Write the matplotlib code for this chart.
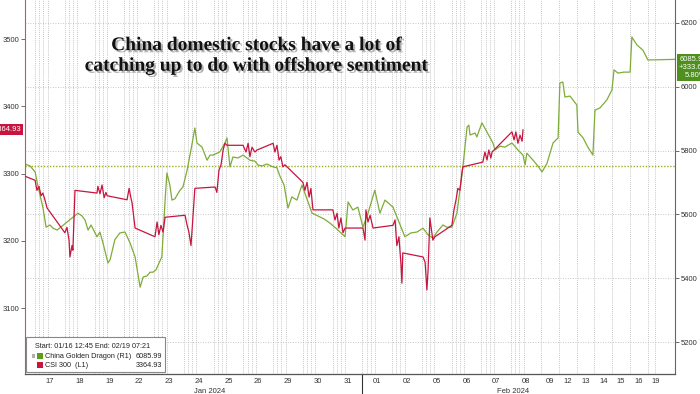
import matplotlib
matplotlib.use('Agg')
import matplotlib.pyplot as plt
import matplotlib.patheffects as pe
import matplotlib.transforms as mtransforms
from matplotlib.patches import Rectangle
import numpy as np

# trading-day axis: labels and their width in session units
day_labels = ['17', '18', '19', '22', '23', '24', '25', '26', '29', '30', '31',
              '01', '02', '05', '06', '07', '08',
              '09', '12', '13', '14', '15', '16', '19']
day_widths = [1.0] * 17 + [0.6] * 6 + [0.5]

# China Golden Dragon (R1), x in session units
dragon_x = [-0.84, -0.67, -0.50, -0.40, -0.24, -0.13, 0.00, 0.10, 0.24,
            0.94, 1.08, 1.18, 1.28, 1.38, 1.58, 1.68, 1.78, 1.95, 2.02,
            2.18, 2.35, 2.52, 2.69, 2.86, 3.03, 3.13, 3.26, 3.36, 3.46, 3.56,
            3.76, 3.87, 3.93, 4.03, 4.10, 4.20, 4.37, 4.47, 4.61, 4.77, 4.87,
            4.94, 5.11, 5.28, 5.38, 5.48, 5.71, 5.88, 5.95,
            6.05, 6.15, 6.32, 6.49, 6.72, 6.89, 6.99, 7.13, 7.29, 7.50, 7.63,
            7.73, 7.87, 8.00, 8.13, 8.30, 8.47,
            8.81, 9.01, 9.21, 9.41, 9.61, 9.75, 9.92,
            10.02, 10.18, 10.35, 10.52, 10.69, 10.92, 11.09, 11.26, 11.53,
            11.93, 12.13, 12.34, 12.54, 12.71, 12.87, 13.01, 13.21, 13.34,
            13.51, 13.68,
            13.88, 14.02, 14.08, 14.12, 14.29, 14.35, 14.52,
            14.89, 14.96, 15.13, 15.29, 15.53, 15.73, 15.90, 15.97, 16.03,
            16.24, 16.40, 16.54, 16.71, 16.91, 17.08, 17.14, 17.24, 17.31,
            17.48, 17.58, 17.71, 17.75, 17.92, 18.08, 18.25, 18.32, 18.49,
            18.72, 18.89, 18.96, 19.09, 19.29, 19.50, 19.56, 19.73, 19.93,
            20.10, 21.01]
dragon_y = [5758, 5752, 5733, 5686, 5623, 5560, 5567, 5557, 5551,
            5604, 5595, 5582, 5551, 5567, 5530, 5545, 5511, 5448, 5458,
            5521, 5542, 5545, 5511, 5467, 5372, 5404, 5407, 5419, 5419, 5426,
            5467, 5645, 5730, 5692, 5645, 5649, 5676, 5686, 5739, 5818, 5871,
            5824, 5811, 5770, 5786, 5786, 5796, 5824, 5840,
            5749, 5780, 5777, 5786, 5770, 5767, 5755, 5752, 5758, 5749, 5746,
            5720, 5692, 5620, 5655, 5645, 5692,
            5604, 5595, 5586, 5573, 5557, 5545, 5530,
            5639, 5614, 5623, 5560, 5604, 5676, 5604, 5645, 5623,
            5530, 5542, 5545, 5557, 5536, 5526, 5545, 5567, 5560,
            5560, 5604,
            5749, 5874, 5880, 5849, 5855, 5843, 5887,
            5824, 5802, 5814, 5811, 5824, 5802, 5786, 5755, 5792,
            5770, 5752, 5733, 5761, 5824, 5840, 6012, 6015, 5968,
            5971, 5959, 5943, 5858, 5840, 5811, 5786, 5927, 5934,
            5959, 5990, 6053, 6043, 6046, 6046, 6156, 6131, 6115,
            6084, 6086]

# CSI 300 (L1)
csi_x = [-0.84, -0.50, -0.44, -0.37, -0.30, -0.24, -0.17, -0.10,
         0.50, 0.57, 0.64, 0.67, 0.74, 0.77, 0.84,
         1.58, 1.61, 1.68, 1.75, 1.82, 1.88, 1.92,
         2.59, 2.66, 2.72, 2.76, 2.86,
         3.53, 3.60, 3.66, 3.73, 3.80, 3.87,
         4.54, 4.61, 4.67, 4.74, 4.77, 4.87,
         5.55, 5.61, 5.68, 5.75, 5.82, 5.88, 5.95,
         6.49, 6.59, 6.66, 6.72, 6.79, 6.89, 6.96,
         7.50, 7.56, 7.63, 7.70, 7.76, 7.83, 7.90,
         8.50, 8.57, 8.64, 8.71, 8.77, 8.84,
         9.51, 9.58, 9.65, 9.71, 9.78, 9.85, 9.92,
         10.52, 10.59, 10.62, 10.69, 10.76, 10.86,
         11.53, 11.60, 11.66, 11.73, 11.80, 11.83, 11.86,
         12.54, 12.61, 12.67, 12.71, 12.77, 12.87, 12.94,
         13.51, 13.58, 13.65, 13.71, 13.78, 13.85, 13.88,
         14.55, 14.62, 14.69, 14.75, 14.82, 14.86,
         15.53, 15.60, 15.66, 15.73, 15.80, 15.87, 15.90]
csi_y = [3296, 3290, 3275, 3281, 3267, 3271, 3261, 3249,
         3212, 3220, 3201, 3176, 3193, 3186, 3275,
         3271, 3281, 3270, 3283, 3264, 3272, 3267,
         3261, 3278, 3264, 3256, 3219,
         3206, 3228, 3209, 3223, 3213, 3235,
         3238, 3223, 3213, 3193, 3212, 3278,
         3280, 3272, 3305, 3313, 3335, 3345, 3342,
         3342, 3332, 3345, 3325, 3339, 3332, 3335,
         3345, 3332, 3342, 3320, 3325, 3310, 3313,
         3287, 3275, 3287, 3265, 3278, 3246,
         3246, 3231, 3241, 3219, 3234, 3212, 3219,
         3219, 3201, 3246, 3228, 3238, 3219,
         3223, 3231, 3193, 3206, 3164, 3137, 3182,
         3176, 3168, 3127, 3157, 3234, 3201, 3206,
         3223, 3246, 3261, 3278, 3275, 3302, 3310,
         3317, 3332, 3320, 3335, 3323, 3332,
         3362, 3350, 3362, 3345, 3357, 3348, 3364.93]

dragon_last = 6085.99
dragon_chg = 333.60
dragon_pct = 5.80
csi_last = 3364.93

RED = '#c8143f'
GREEN = '#7eac38'
TICK_FONT = 'Liberation Sans'

fig = plt.figure(figsize=(7, 3.94), dpi=100)
ax = fig.add_axes([25 / 700, 20 / 394, 650 / 700, 374 / 394])
ax2 = ax.twinx()

ax.set_xlim(-0.84, 21.01)
ax.set_ylim(3002, 3558)
ax2.set_ylim(5100, 6272)

# day centers and session gridlines
starts = -0.5 + np.concatenate([[0], np.cumsum(day_widths)[:-1]])
centers = starts + np.array(day_widths) / 2
vlines = []
for s, w in zip(starts, day_widths):
    if w == 1.0:
        vlines += [s, s + 0.14, s + 0.28, s + 0.42]
    else:
        vlines.append(s)
vlines.append(starts[-1] + 0.25)
for v in vlines:
    ax2.axvline(v, color='#b4b4b4', lw=0.6, ls=(0, (1, 1.5)), zorder=0)

ax2.set_yticks([5200, 5400, 5600, 5800, 6000, 6200])
ax2.grid(axis='y', color='#b4b4b4', lw=0.6, ls=(0, (1, 2)))
ax2.axhline(dragon_last - dragon_chg, color='#a0ae2a', lw=1.0, ls=(0, (1, 1.2)), zorder=1)

ax2.plot(dragon_x, dragon_y, color=GREEN, lw=0.9, zorder=3)
ax.plot(csi_x, csi_y, color=RED, lw=0.9, zorder=4)
ax.set_zorder(ax2.get_zorder() + 1)
ax.patch.set_visible(False)

ax.set_yticks([3100, 3200, 3300, 3400, 3500])
ax.set_xticks(centers)
ax.set_xticklabels(day_labels)
ax.tick_params(axis='x', length=0, pad=3, labelsize=5.5, labelcolor='#333333')
ax.tick_params(axis='y', length=3, width=0.6, pad=1, labelsize=5.5,
               labelcolor='#333333', color='#555555')
ax2.tick_params(axis='y', length=3, width=0.6, pad=1, labelsize=5.5,
                labelcolor='#333333', color='#555555')
for lab in ax.get_xticklabels() + ax.get_yticklabels() + ax2.get_yticklabels():
    lab.set_fontfamily(TICK_FONT)

for a in (ax, ax2):
    a.spines['top'].set_visible(False)
    a.spines['left'].set_visible(False)
    a.spines['right'].set_visible(False)
ax.spines['left'].set_visible(True)
ax.spines['left'].set_color('#c8506e')
ax2.spines['right'].set_visible(True)
ax2.spines['right'].set_color('#666666')
ax.spines['bottom'].set_color('#555555')
ax.spines['bottom'].set_linewidth(0.8)

# month labels and separator
trans = mtransforms.blended_transform_factory(ax.transData, ax.transAxes)
ax.text(5.35, -0.038, 'Jan 2024', transform=trans, ha='center', va='top',
        fontsize=5.5, color='#333333', family=TICK_FONT)
ax.text(15.55, -0.038, 'Feb 2024', transform=trans, ha='center', va='top',
        fontsize=5.5, color='#333333', family=TICK_FONT)
ax.plot([10.5, 10.5], [0, -0.06], transform=trans, color='#333333', lw=0.8, clip_on=False)

# last value tags (run off the figure edge as in the source chart)
ltrans = mtransforms.blended_transform_factory(ax.transAxes, ax.transData)
ax.text(-0.006, csi_last, f'{csi_last:.2f}', transform=ltrans, ha='right', va='center',
        fontsize=5.5, color='white', family=TICK_FONT,
        bbox=dict(boxstyle='square,pad=0.25', fc=RED, ec='none'))
rtrans = mtransforms.blended_transform_factory(ax2.transAxes, ax2.transData)
ax2.text(1.006, dragon_last + 10, f'{dragon_last:.2f}\n+{dragon_chg:.2f}\n{dragon_pct:.2f}%',
         transform=rtrans, ha='left', va='top', fontsize=5.5, color='white',
         family=TICK_FONT, linespacing=1.15, multialignment='right',
         bbox=dict(boxstyle='square,pad=0.25', fc='#4f8f1e', ec='none'))

# legend box
ax.add_patch(Rectangle((0.002, 0.005), 0.214, 0.093, transform=ax.transAxes,
                       fc='white', ec='#888888', lw=0.8, zorder=6))
ax.text(0.016, 0.074, 'Start: 01/16 12:45 End: 02/19 07:21', transform=ax.transAxes,
        fontsize=5.2, color='#222222', family=TICK_FONT, va='center', zorder=7)
ax.add_patch(Rectangle((0.010, 0.042), 0.006, 0.012, transform=ax.transAxes,
                       fc='#b0b0b0', ec='none', zorder=7))
ax.add_patch(Rectangle((0.019, 0.040), 0.009, 0.016, transform=ax.transAxes,
                       fc='#5a9e1a', ec='none', zorder=7))
ax.text(0.031, 0.048, 'China Golden Dragon (R1)', transform=ax.transAxes,
        fontsize=5.2, color='#222222', family=TICK_FONT, va='center', zorder=7)
ax.text(0.211, 0.048, f'{dragon_last:.2f}', transform=ax.transAxes, ha='right',
        fontsize=5.2, color='#222222', family=TICK_FONT, va='center', zorder=7)
ax.add_patch(Rectangle((0.019, 0.016), 0.009, 0.016, transform=ax.transAxes,
                       fc=RED, ec='none', zorder=7))
ax.text(0.031, 0.024, 'CSI 300  (L1)', transform=ax.transAxes,
        fontsize=5.2, color='#222222', family=TICK_FONT, va='center', zorder=7)
ax.text(0.211, 0.024, f'{csi_last:.2f}', transform=ax.transAxes, ha='right',
        fontsize=5.2, color='#222222', family=TICK_FONT, va='center', zorder=7)

# headline
fig.text(0.367, 0.858, 'China domestic stocks have a lot of\ncatching up to do with offshore sentiment',
         ha='center', va='center', fontsize=14, fontweight='bold',
         family='Liberation Serif', color='#111111', linespacing=1.27,
         path_effects=[pe.withSimplePatchShadow(offset=(1.5, -1.5),
                                                shadow_rgbFace='#777777', alpha=0.55)])

fig.savefig('out.png', dpi=100)
